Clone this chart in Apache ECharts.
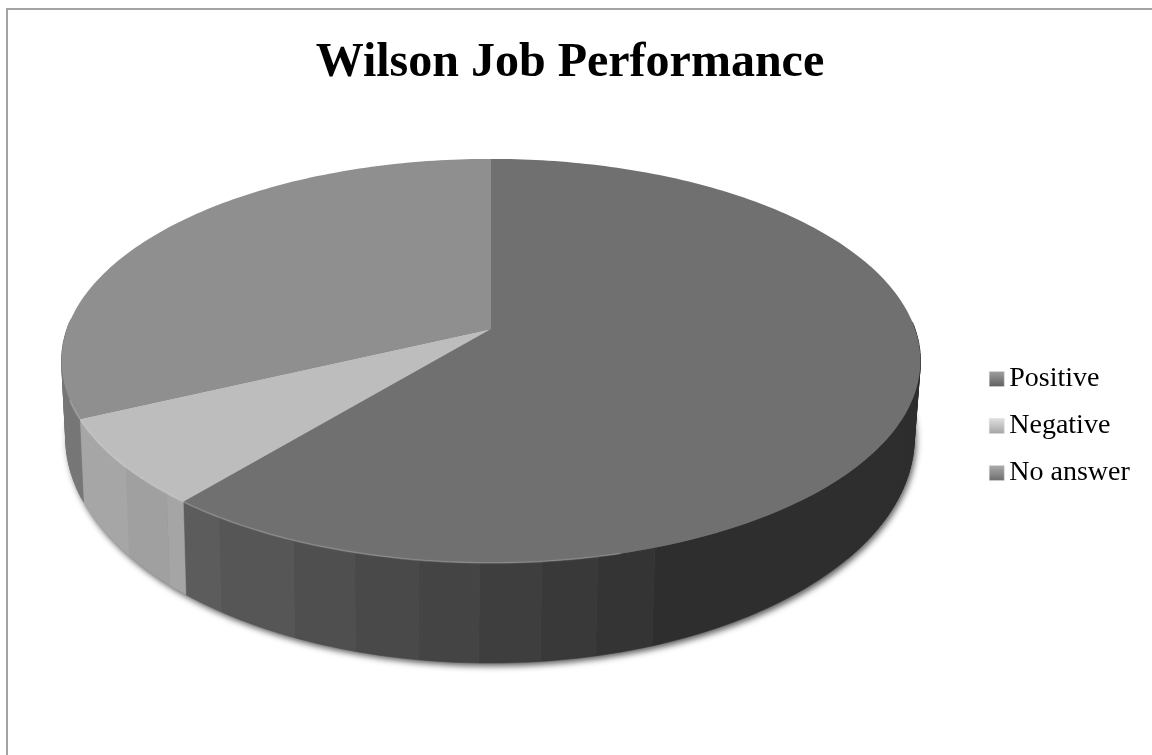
<!DOCTYPE html>
<html><head><meta charset="utf-8">
<style>html,body{margin:0;padding:0;background:#fff}#c{width:1152px;height:755px}</style>
<script src="https://cdn.jsdelivr.net/npm/echarts@6/dist/echarts.min.js"></script>
</head><body><div id="c"></div>
<script>
const categories = ['Positive', 'Negative', 'No answer'];
const shares = [61, 7, 32];
const titleText = 'Wilson Job Performance';

// projected disc: centre, half-axes and perspective strength of the top and bottom rims
const TOP = {cx: 491, cy: 329, R: 424, S: 197, k: 0.158};
const BOT = {cx: 490, cy: 401.3, R: 419, S: 220.4, k: 0.158};
const project = (d, deg) => {
  const a = deg * Math.PI / 180, u = Math.sin(a), v = -Math.cos(a), w = 1 - d.k * v;
  return [d.cx + d.R * u / w, d.cy + d.S * v / w];
};
const topColors = ['#707070', '#bdbdbd', '#8f8f8f'];
const legendColors = [['#a0a0a0', '#5e5e5e'], ['#e0e0e0', '#a4a4a4'], ['#acacac', '#6c6c6c']];
// side shading bands: [angle the band ends at (clockwise from 12 o'clock), colour]
const sideBands = [
  [160.8, '#2e2e2e'], [167.7, '#343434'], [174.2, '#393939'], [181.3, '#3e3e3e'], [188.3, '#444444'],
  [195.8, '#494949'], [203.5, '#4f4f4f'], [213.9, '#565656'], [300, '#5c5c5c']
];
const negBands = [[222.5, '#a5a5a5'], [230.8, '#a0a0a0'], [300, '#a6a6a6']];
const restBands = [[300, '#777777']];
const bandSets = [sideBands, negBands, restBands];

const total = shares.reduce((s, v) => s + v, 0);
const starts = shares.map((_, i) => shares.slice(0, i).reduce((s, v) => s + v, 0) / total * 360);

function arc(d, from, to) {
  const pts = [], n = Math.max(2, Math.ceil(Math.abs(to - from)));
  for (let i = 0; i <= n; i++) pts.push(project(d, from + (to - from) * i / n));
  return pts;
}

function sliceItem(idx) {
  return function (params, api) {
    const from = starts[idx], to = from + api.value(0) / total * 360;
    const children = [];
    // side wall: one polygon per shading band of the front part of this slice
    let a = Math.max(from, 88);
    const end = Math.min(to, 272);
    bandSets[idx].forEach(band => {
      const b = Math.min(band[0], end);
      if (b > a) {
        children.push({type: 'polygon', shape: {points: arc(TOP, a, b).concat(arc(BOT, b, a))},
          style: {fill: band[1], stroke: band[1], lineWidth: 0.5}});
        // near the silhouette the wall is swept by its rulings, so fill those too
        for (let t = a; t < b; t += 1) {
          if (t < 130 || t > 245) {
            const q = [project(TOP, t), project(TOP, t + 1), project(BOT, t + 1), project(BOT, t)];
            children.push({type: 'polygon', shape: {points: q},
              style: {fill: band[1], stroke: band[1], lineWidth: 0.5}});
          }
        }
        a = b;
      }
    });
    // top surface
    const pts = [[TOP.cx, TOP.cy]].concat(arc(TOP, from, to));
    children.push({type: 'polygon', shape: {points: pts}, style: {fill: topColors[idx]}});
    // bevel highlight on the front rim
    const r0 = Math.max(from, 165), r1 = Math.min(to, 250);
    if (r1 > r0) {
      children.push({type: 'polyline', shape: {points: arc(TOP, r0, r1)},
        style: {fill: null, stroke: 'rgba(255,255,255,0.2)', lineWidth: 1.5,
          shadowBlur: 3, shadowColor: 'rgba(255,255,255,0.3)'}});
    }
    return {type: 'group', children};
  };
}

function shadowItem() {
  return {type: 'polygon', shape: {points: arc(BOT, 0, 360)},
    style: {fill: '#777', shadowBlur: 6, shadowColor: 'rgba(0,0,0,0.65)', shadowOffsetY: 3, shadowOffsetX: 2}};
}

const chart = echarts.init(document.getElementById('c'), null, {renderer: 'canvas'});
chart.setOption({
  animation: false,
  backgroundColor: '#fff',
  title: {text: titleText, left: 570, top: 40, padding: 0, textAlign: 'center',
    textStyle: {fontFamily: 'Liberation Serif', fontWeight: 'bold', fontSize: 48, color: '#000', lineHeight: 48}},
  legend: {
    orient: 'vertical', left: 989, top: 365, padding: 0, itemWidth: 15, itemHeight: 15, itemGap: 19, itemTextGap: 7,
    selectedMode: false, icon: 'rect',
    textStyle: {fontFamily: 'Liberation Serif', fontSize: 28, color: '#000', lineHeight: 26},
    data: categories.map((name, i) => ({name, icon: 'rect', itemStyle: {
      color: {type: 'linear', x: 0, y: 0, x2: 0, y2: 1,
        colorStops: [{offset: 0, color: legendColors[i][0]}, {offset: 1, color: legendColors[i][1]}]},
      borderColor: '#d8d8d8', borderWidth: 0.5}}))
  },
  graphic: [{type: 'rect', shape: {x: 7, y: 9, width: 1170, height: 770}, z: -1,
    style: {fill: null, stroke: '#a3a3a3', lineWidth: 2}}],
  series: [
    {type: 'custom', name: '_shadow', coordinateSystem: 'none', silent: true, data: [[1]], renderItem: shadowItem}
  ].concat(categories.map((name, i) => ({
    type: 'custom', name, coordinateSystem: 'none', silent: true,
    itemStyle: {color: topColors[i]},
    data: [[shares[i]]],
    renderItem: sliceItem(i)
  })))
});
</script></body></html>
